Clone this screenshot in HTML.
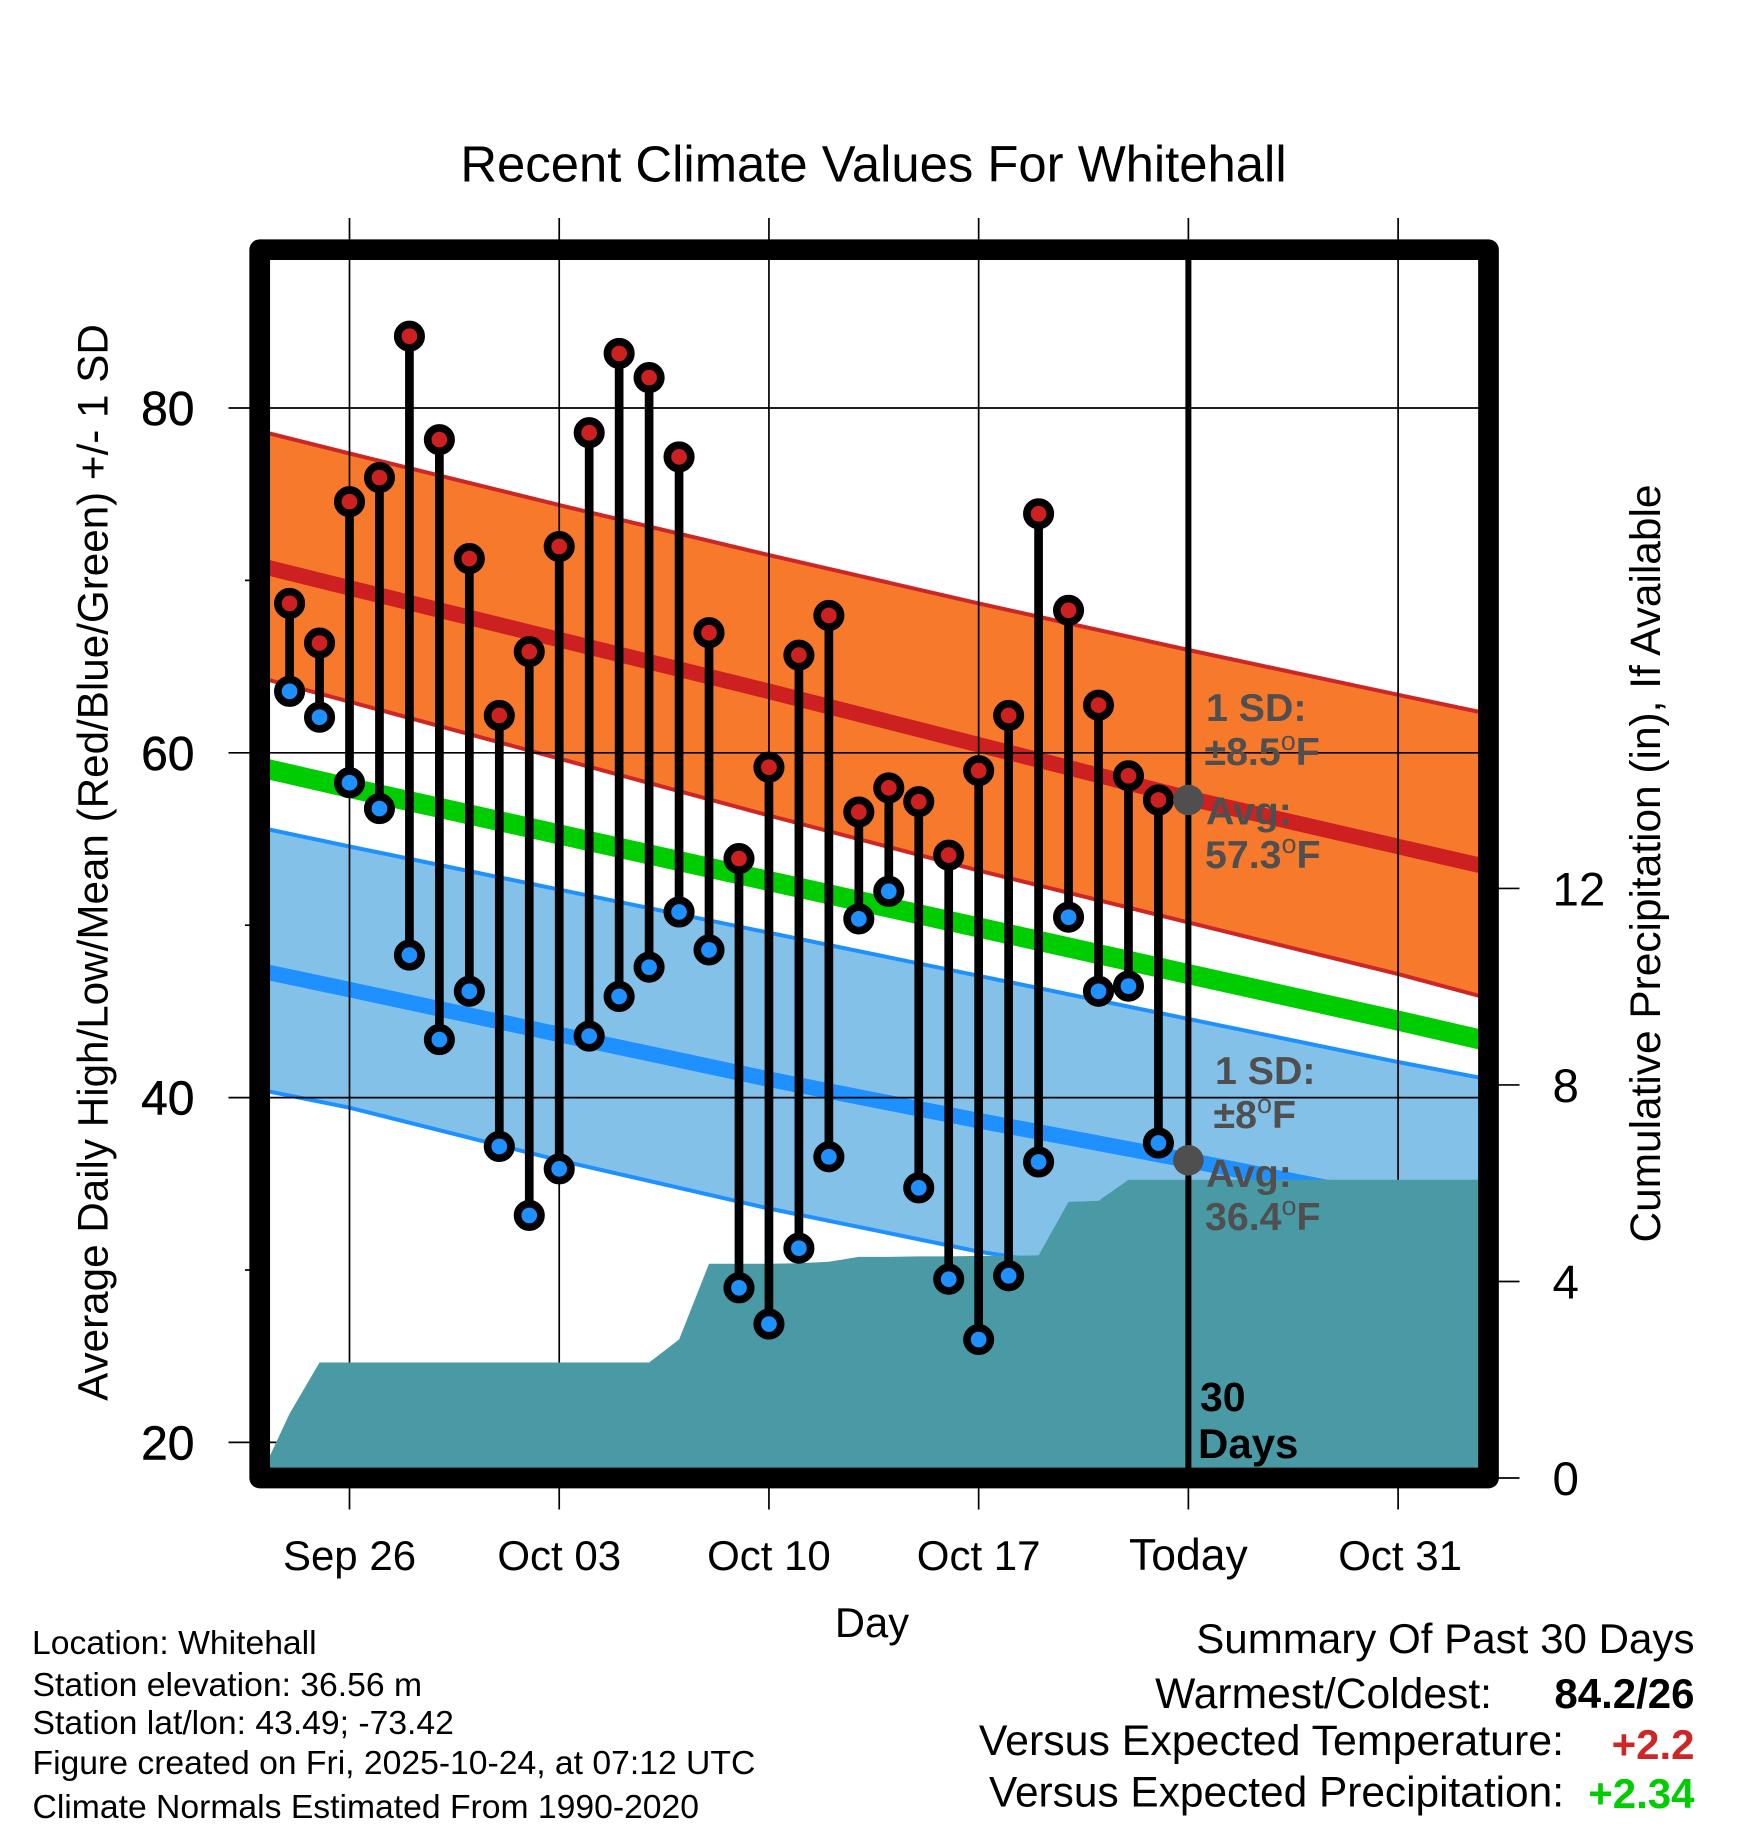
<!DOCTYPE html>
<html lang="en">
<head>
<meta charset="utf-8">
<title>Recent Climate Values For Whitehall</title>
<style>
html,body{margin:0;padding:0;background:#fff;width:1748px;height:1828px;overflow:hidden}
svg{display:block}
text{font-family:"Liberation Sans",Arial,sans-serif;fill:#000}
.note{font-weight:bold;font-size:39.3px;fill:#4f4f4f}
.deg{font-weight:normal;font-size:27px}
.foot{font-size:33.7px}
.sum{font-size:42.4px;text-anchor:end}
.sumv{font-size:42px;font-weight:bold;text-anchor:end}
</style>
</head>
<body>
<svg id="chart" xmlns="http://www.w3.org/2000/svg" width="1748" height="1828" viewBox="0 0 1748 1828">
<defs><clipPath id="plot-clip"><rect x="270" y="260" width="1209" height="1208"/></clipPath></defs>
<rect x="0" y="0" width="1748" height="1828" fill="#fff"/>
<g id="plot" clip-path="url(#plot-clip)"></g>
<rect x="259.7" y="249.7" width="1228.8" height="1228.3" fill="none" stroke="#000" stroke-width="20.7" stroke-linejoin="round"/>
<g id="axes"></g>
<text x="873.5" y="181.5" font-size="50.8" text-anchor="middle">Recent Climate Values For Whitehall</text>
<text x="872" y="1637" font-size="41.7" text-anchor="middle">Day</text>
<text transform="translate(107.6 862.5) rotate(-90)" font-size="42.2" text-anchor="middle">Average Daily High/Low/Mean (Red/Blue/Green) +/- 1 SD</text>
<text transform="translate(1660 863.5) rotate(-90)" font-size="42.4" text-anchor="middle">Cumulative Precipitation (in), If Available</text>

<text class="note" x="1206" y="721">1 SD:</text>
<text class="note" x="1204.5" y="765">±8.5<tspan class="deg" dy="-15">o</tspan><tspan dy="15">F</tspan></text>
<text class="note" x="1206" y="824.5">Avg:</text>
<text class="note" x="1205" y="868">57.3<tspan class="deg" dy="-15">o</tspan><tspan dy="15">F</tspan></text>
<text class="note" x="1215" y="1084">1 SD:</text>
<text class="note" x="1213.5" y="1128">±8<tspan class="deg" dy="-15">o</tspan><tspan dy="15">F</tspan></text>
<text class="note" x="1206" y="1187">Avg:</text>
<text class="note" x="1205" y="1230">36.4<tspan class="deg" dy="-15">o</tspan><tspan dy="15">F</tspan></text>
<text x="1200" y="1411" font-size="41" font-weight="bold">30</text>
<text x="1198" y="1458" font-size="42" font-weight="bold">Days</text>

<text class="foot" x="32" y="1654">Location: Whitehall</text>
<text class="foot" x="32.5" y="1696">Station elevation: 36.56 m</text>
<text class="foot" x="32.5" y="1734">Station lat/lon: 43.49; -73.42</text>
<text class="foot" x="32.5" y="1774">Figure created on Fri, 2025-10-24, at 07:12 UTC</text>
<text class="foot" x="32.5" y="1818">Climate Normals Estimated From 1990-2020</text>

<text class="sum" x="1694.5" y="1653" style="font-size:42.1px">Summary Of Past 30 Days</text>
<text class="sum" x="1492" y="1708" style="font-size:42.6px">Warmest/Coldest:</text>
<text class="sumv" x="1694.5" y="1708">84.2/26</text>
<text class="sum" x="1564" y="1755" style="font-size:42.85px">Versus Expected Temperature:</text>
<text class="sumv" x="1694.5" y="1759" style="fill:#CD2626">+2.2</text>
<text class="sum" x="1564" y="1806.5">Versus Expected Precipitation:</text>
<text class="sumv" x="1694.5" y="1808" style="fill:#00CD00">+2.34</text>
</svg>

<script>
// Days are counted from Sep 26 (day 0)
const xTickDays = [0, 7, 14, 21, 28, 35];
const xTickLabels = ['Sep 26', 'Oct 03', 'Oct 10', 'Oct 17', 'Today', 'Oct 31'];
const tempTicks = [20, 40, 60, 80];
const tempMinorTicks = [30, 50, 70];
const precipTicks = [0, 4, 8, 12];

const firstObsDay = -2;
const highs = [68.7,66.4,74.6,76.0,84.2,78.2,71.3,62.2,65.9,72.0,78.6,83.2,81.8,77.2,67.0,53.9,59.2,65.7,68.0,56.6,58.0,57.2,54.1,59.0,62.2,73.9,68.3,62.8,58.7,57.3];
const lows = [63.6,62.1,58.3,56.8,48.3,43.4,46.2,37.2,33.2,35.9,43.6,45.9,47.6,50.8,48.6,29.0,26.9,31.3,36.6,50.4,52.0,34.8,29.5,26.0,29.7,36.3,50.5,46.2,46.5,37.4];

const normalDays = [-3, 0, 7, 14, 21, 28, 35, 38];
const highUpper = [78.7,77.4,74.4,71.5,68.7,66.0,63.4,62.3];
const highMean = [70.9,69.6,66.6,63.6,60.5,57.4,54.6,53.4];
const highLower = [64.4,63.0,59.7,56.4,53.2,50.2,47.2,45.8];
const overallMean = [59.2,58.0,55.3,52.6,49.9,47.2,44.5,43.3];
const lowUpper = [55.7,54.6,52.1,49.6,47.1,44.6,42.1,41.1];
const lowMean = [47.4,46.3,43.7,41.1,38.7,36.4,34.0,33.0];
const lowLower = [40.5,39.45,36.4,33.6,31.1,29.2,27.5,26.8];

const precipDays = [-3,-2,-1,0,1,2,3,4,5,6,7,8,9,10,11,12,13,14,15,16,17,18,19,20,21,22,23,24,25,26,27,38];
const precipValues = [0,1.31,2.35,2.35,2.35,2.35,2.35,2.35,2.35,2.35,2.35,2.35,2.35,2.35,2.82,4.36,4.36,4.36,4.37,4.40,4.50,4.50,4.51,4.51,4.52,4.52,4.53,5.62,5.64,6.07,6.07,6.07];

const todayDay = 28;
const todayHighNormal = 57.3;
const todayLowNormal = 36.4;

const xScale = d => 349.5 + d * 29.96;
const yTemp = v => 408.6 + (80 - v) * 17.24;
const yPrecip = p => 1478 - p * 49.13;

const NS = 'http://www.w3.org/2000/svg';
const plot = document.getElementById('plot');
const axes = document.getElementById('axes');
function mk(parent, tag, attrs) {
  const el = document.createElementNS(NS, tag);
  for (const k in attrs) el.setAttribute(k, attrs[k]);
  parent.appendChild(el);
  return el;
}
const linePts = vals => vals.map((v, i) => xScale(normalDays[i]).toFixed(1) + ',' + yTemp(v).toFixed(1)).join(' ');
const bandPts = (up, lo) => linePts(up) + ' ' + lo.map((v, i) => [xScale(normalDays[i]).toFixed(1), yTemp(v).toFixed(1)].join(',')).reverse().join(' ');

// bands
const orangeBand = mk(plot, 'polygon', {points: bandPts(highUpper, highLower), fill: '#F7792C'});


const blueBand = mk(plot, 'polygon', {points: bandPts(lowUpper, lowLower), fill: '#84C1E8'});



// series lines
const seriesA = mk(plot, 'polyline', {points: linePts(highUpper), fill: 'none', stroke: '#CD2626', 'stroke-width': 4});


const seriesB = mk(plot, 'polyline', {points: linePts(highLower), fill: 'none', stroke: '#CD2626', 'stroke-width': 4});


const seriesC = mk(plot, 'polyline', {points: linePts(highMean), fill: 'none', stroke: '#CD2121', 'stroke-width': 15.5});


const seriesD = mk(plot, 'polyline', {points: linePts(overallMean), fill: 'none', stroke: '#00CD00', 'stroke-width': 20});


const seriesE = mk(plot, 'polyline', {points: linePts(lowUpper), fill: 'none', stroke: '#1E90FF', 'stroke-width': 4});


const seriesF = mk(plot, 'polyline', {points: linePts(lowLower), fill: 'none', stroke: '#1E90FF', 'stroke-width': 4});


const seriesG = mk(plot, 'polyline', {points: linePts(lowMean), fill: 'none', stroke: '#1E90FF', 'stroke-width': 15.5});



// grid
xTickDays.forEach(d => {
  const g = mk(plot, 'line', {x1: xScale(d), x2: xScale(d), y1: 259, y2: 1468, stroke: '#000', 'stroke-width': 1.7});
  
  
});
tempTicks.forEach(v => {
  const g = mk(plot, 'line', {x1: 270, x2: 1479, y1: 408 + (80 - v) * 17.24, y2: 408 + (80 - v) * 17.24, stroke: '#000', 'stroke-width': 1.7});
  
  
});

// precipitation area
const precipBase = xScale(precipDays[precipDays.length - 1]).toFixed(1) + ',' + yPrecip(0) + ' ' + xScale(precipDays[0]).toFixed(1) + ',' + yPrecip(0);
const precipArea = mk(plot, 'polygon', {
  points: precipValues.map((p, i) => xScale(precipDays[i]).toFixed(1) + ',' + yPrecip(p).toFixed(1)).join(' ') + ' ' + precipBase,
  fill: '#4A9AA6'
});



// today line
const todayLine = mk(plot, 'line', {x1: xScale(todayDay), x2: xScale(todayDay), y1: 259, y2: 1468, stroke: '#000', 'stroke-width': 6});



// stems and points
highs.forEach((h, i) => {
  const x = xScale(firstObsDay + i);
  const stem = mk(plot, 'line', {x1: x, x2: x, y1: yTemp(h), y2: yTemp(lows[i]), stroke: '#000', 'stroke-width': 8.7});
  
  
});
highs.forEach((h, i) => {
  const x = xScale(firstObsDay + i);
  const lowPt = mk(plot, 'circle', {cx: x, cy: yTemp(lows[i]), r: 11.7, fill: '#1E90FF', stroke: '#000', 'stroke-width': 7.7});
  
  
  const highPt = mk(plot, 'circle', {cx: x, cy: yTemp(h), r: 11.7, fill: '#CD2121', stroke: '#000', 'stroke-width': 7.7});
  
  
});

// today normals
const todayHighDot = mk(plot, 'circle', {cx: xScale(todayDay), cy: yTemp(todayHighNormal), r: 15.3, fill: '#4f4f4f'});


const todayLowDot = mk(plot, 'circle', {cx: xScale(todayDay), cy: yTemp(todayLowNormal), r: 15.3, fill: '#4f4f4f'});



// axes
xTickDays.forEach((d, i) => {
  const x = xScale(d);
  const t1 = mk(axes, 'line', {x1: x, x2: x, y1: 218, y2: 240, stroke: '#000', 'stroke-width': 1.7});
  
  
  const t2 = mk(axes, 'line', {x1: x, x2: x, y1: 1487, y2: 1509.5, stroke: '#000', 'stroke-width': 1.7});
  
  
  const lab = mk(axes, 'text', {x: i === 5 ? x + 2 : x, y: 1570, 'font-size': d === todayDay ? 44.5 : 42, 'text-anchor': 'middle'});
  
  
  lab.textContent = xTickLabels[i];
});
tempTicks.forEach(v => {
  const y = 408 + (80 - v) * 17.24;
  const t = mk(axes, 'line', {x1: 228.5, x2: 251, y1: y, y2: y, stroke: '#000', 'stroke-width': 1.7});
  
  
  const lab = mk(axes, 'text', {x: 194.5, y: y + 17, 'font-size': 48, 'text-anchor': 'end', stroke: '#000', 'stroke-width': 0.5});
  
  
  lab.textContent = v;
});
tempMinorTicks.forEach(v => {
  const y = 408 + (80 - v) * 17.24;
  const t = mk(axes, 'line', {x1: 245, x2: 251, y1: y, y2: y, stroke: '#000', 'stroke-width': 1.7});
  
  
});
precipTicks.forEach(p => {
  const y = yPrecip(p);
  const t = mk(axes, 'line', {x1: 1497, x2: 1519.5, y1: y, y2: y, stroke: '#000', 'stroke-width': 1.7});
  
  
  const lab = mk(axes, 'text', {x: 1552.5, y: y + 17, 'font-size': 47.5});
  
  
  lab.textContent = p;
});
</script>
</body>
</html>
